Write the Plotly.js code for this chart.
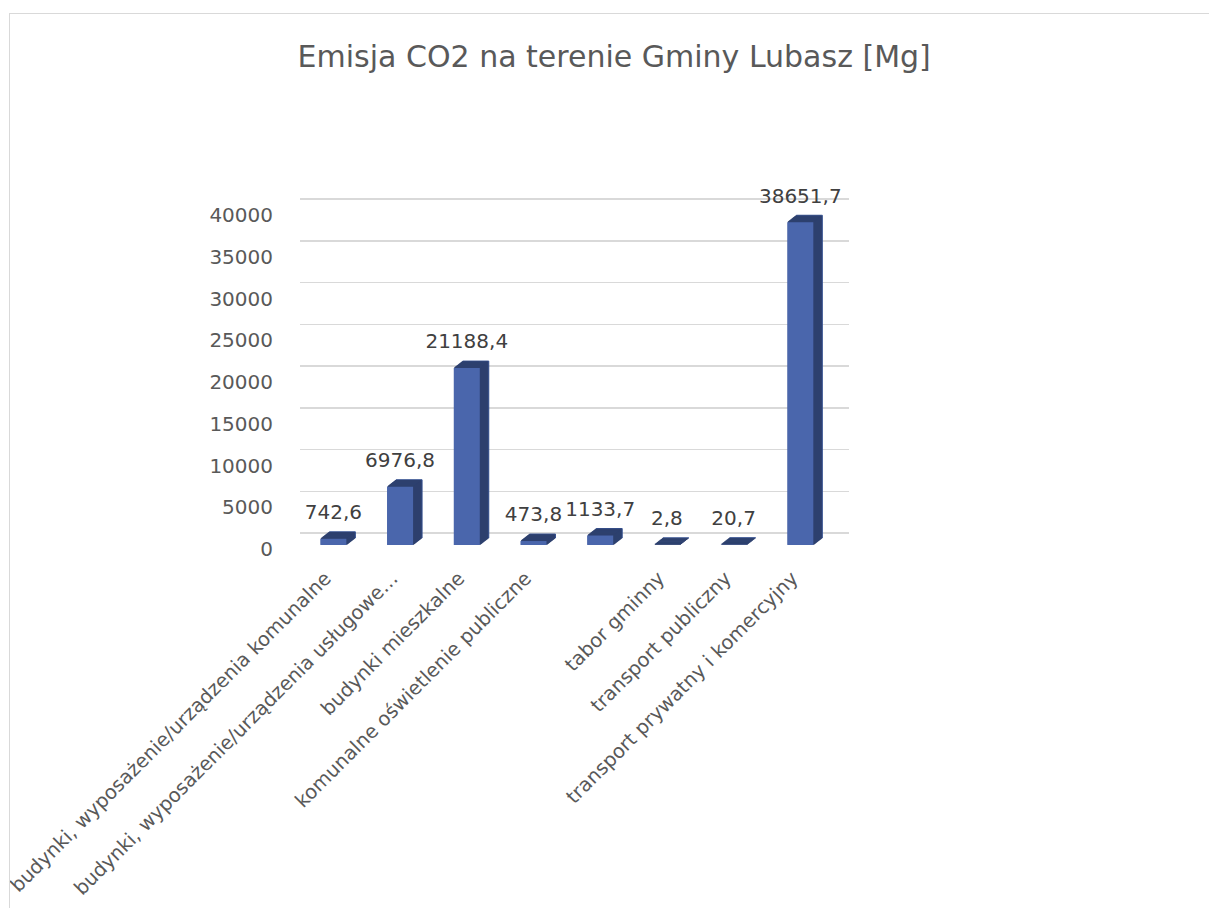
<!DOCTYPE html>
<html>
<head>
<meta charset="utf-8">
<script src="https://cdn.plot.ly/plotly-3.0.1.min.js"></script>
<style>
  html, body { margin: 0; padding: 0; overflow: hidden; background: #fff; }
  #wrap { position: relative; width: 1209px; height: 908px; overflow: hidden; }
  #chart { position: absolute; left: 0; top: 0; width: 1209px; height: 908px; }
  #frame { position: absolute; left: 9px; top: 13px; width: 1300px; height: 1000px;
           border: 1.5px solid #d9d9d9; pointer-events: none; }
</style>
</head>
<body>
<div id="wrap">
  <div id="chart"></div>
  <div id="frame"></div>
</div>
<script>
// ---- data ----
const categories = [
  "budynki, wyposażenie/urządzenia komunalne",
  "budynki, wyposażenie/urządzenia usługowe…",
  "budynki mieszkalne",
  "komunalne oświetlenie publiczne",
  "",
  "tabor gminny",
  "transport publiczny",
  "transport prywatny i komercyjny"
];
const emissions = [742.6, 6976.8, 21188.4, 473.8, 1133.7, 2.8, 20.7, 38651.7];
const yTicks = [0, 5000, 10000, 15000, 20000, 25000, 30000, 35000, 40000];
const chartTitle = "Emisja CO2 na terenie Gminy Lubasz [Mg]";

// ---- styling / geometry ----
const FONT = "'DejaVu Sans', sans-serif";
const positions = categories.map((c, i) => i);
const labels = emissions.map(v => v.toFixed(1).replace('.', ','));

// plot area: y 170..560 px ; value 0 at 545 px, 40000 at 211 px
const plotTop = 170, plotBot = 560;
const pxPerUnit = 334 / 40000;
const yRange = [-(plotBot - 545) / pxPerUnit, (545 - plotTop) / pxPerUnit];
const unitsPerPx = 1 / pxPerUnit;
const gridShift = 12 * unitsPerPx;        // back-wall gridlines shift
const pxPerCat = 548.7 / 8.23;
const barW = 0.39;
const DEPTH_X_PX = 9, DEPTH_Y_PX = 7, LAYERS = 9;

const traces = [{
  type: 'scatter', mode: 'markers', x: positions, y: emissions, yaxis: 'y2',
  marker: { opacity: 0 }, hoverinfo: 'skip', showlegend: false
}];
// depth layers (back to front) give the 3D side / top faces
for (let k = LAYERS; k >= 1; k--) {
  const f = k / LAYERS;
  traces.push({
    type: 'bar', x: positions, y: emissions,
    base: f * DEPTH_Y_PX * unitsPerPx,
    width: barW, offset: -barW / 2 + f * DEPTH_X_PX / pxPerCat,
    marker: { color: k === LAYERS ? '#35508f' : '#2e406f',
              line: { color: k === LAYERS ? '#35508f' : '#2e406f', width: 1 } },
    hoverinfo: 'skip', showlegend: false
  });
}
traces.push({
  type: 'bar', x: positions, y: emissions,
  width: barW, offset: -barW / 2,
  marker: { color: '#4a66ac' }, showlegend: false
});
traces.push({
  type: 'scatter', mode: 'markers+text', x: positions, y: emissions,
  text: labels, textposition: 'top center',
  textfont: { family: FONT, size: 20, color: '#404040' },
  marker: { size: 22, opacity: 0 }, hoverinfo: 'skip', showlegend: false, cliponaxis: false
});

const layout = {
  width: 1209, height: 908,
  margin: { l: 300, r: 1209 - 848.7, t: plotTop, b: 908 - plotBot },
  paper_bgcolor: '#ffffff', plot_bgcolor: 'rgba(0,0,0,0)',
  barmode: 'overlay',
  title: {
    text: chartTitle, x: 0.508, xref: 'container', xanchor: 'center',
    y: 1 - 56 / 908, yref: 'container', yanchor: 'middle',
    font: { family: FONT, size: 30, color: '#595959' }
  },
  xaxis: {
    range: [-0.5, 7.73], tickvals: positions, ticktext: categories,
    tickangle: -45, showgrid: false, zeroline: false, showline: false, ticks: '',
    ticklabelshift: -8, ticklabelstandoff: 2, ticklabeloverflow: 'allow',
    tickfont: { family: FONT, size: 19.5, color: '#595959' }, fixedrange: true
  },
  yaxis: {
    range: yRange, tickvals: yTicks, tickformat: 'd',
    showgrid: false, zeroline: false, showline: false, ticks: '',
    ticklabelstandoff: 26, ticklabelshift: 4, ticklabeloverflow: 'allow',
    tickfont: { family: FONT, size: 20, color: '#595959' }
  },
  yaxis2: {
    overlaying: 'y', range: [yRange[0] - gridShift, yRange[1] - gridShift],
    tickvals: yTicks, showticklabels: false, showgrid: true,
    gridcolor: '#d9d9d9', gridwidth: 1.5, zeroline: false, showline: false, ticks: ''
  },
  font: { family: FONT }
};

Plotly.newPlot('chart', traces, layout, { staticPlot: true });
</script>
</body>
</html>
